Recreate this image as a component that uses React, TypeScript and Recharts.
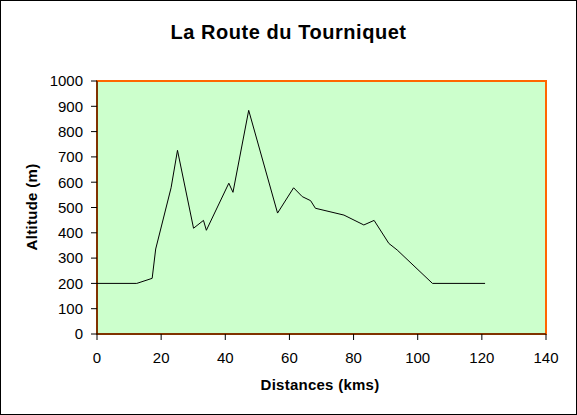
import { LineChart, Line, XAxis, YAxis, CartesianGrid, ReferenceArea } from 'recharts'

// Distance (km) and altitude (m)
const DISTANCES = [0, 12.4, 17.2, 18.3, 23.1, 25.1, 30.1, 33.2, 34.1, 41.1, 42.4, 47.3, 56.3, 61.3, 64, 66.6, 68.1, 77, 83.2, 86.4, 91, 93.6, 104.6, 121]
const ALTITUDES = [200, 200, 220, 336, 578, 726, 418, 449, 410, 596, 560, 884, 478, 578, 543, 527, 497, 470, 431, 449, 358, 332, 200, 200]

const X_TICKS = [0, 20, 40, 60, 80, 100, 120, 140]
const Y_TICKS = [0, 100, 200, 300, 400, 500, 600, 700, 800, 900, 1000]

const data = DISTANCES.map((km, i) => ({ km, alt: ALTITUDES[i] }))

const FONT = '"Liberation Sans", Arial, sans-serif'
const tickStyle = { fill: '#000', fontSize: 15, fontFamily: FONT }

export default function App() {
  return (
    <div style={{ position: 'absolute', left: 0, top: 0, width: 577, height: 415, background: '#fff', fontFamily: FONT }}>
      <LineChart
        width={577}
        height={415}
        data={data}
        margin={{ top: 81, right: 31, left: 37, bottom: 51 }}
      >
        <CartesianGrid horizontal={false} vertical={false} fill="#CCFFCC" />
        <ReferenceArea
          x1={0}
          x2={140}
          y1={0}
          y2={1000}
          fill="#CCFFCC"
          fillOpacity={1}
          stroke="#FF6600"
          strokeWidth={2}
        />
        <XAxis
          type="number"
          dataKey="km"
          domain={[0, 140]}
          ticks={X_TICKS}
          interval={0}
          height={30}
          tick={tickStyle}
          tickSize={6}
          tickMargin={12}
          axisLine={{ stroke: '#000' }}
          tickLine={{ stroke: '#000' }}
        />
        <YAxis
          type="number"
          domain={[0, 1000]}
          ticks={Y_TICKS}
          interval={0}
          width={60}
          tick={tickStyle}
          tickSize={6}
          tickMargin={8}
          axisLine={{ stroke: '#000' }}
          tickLine={{ stroke: '#000' }}
        />
        <Line
          type="linear"
          dataKey="alt"
          stroke="#000"
          strokeWidth={1}
          dot={false}
          activeDot={false}
          isAnimationActive={false}
        />
      </LineChart>

      {/* titles */}
      <div style={{ position: 'absolute', left: 0, width: 577, top: 22, textAlign: 'center', fontSize: 20, lineHeight: '20px', fontWeight: 'bold', letterSpacing: 0.55 }}>
        La Route du Tourniquet
      </div>
      <div style={{ position: 'absolute', left: 320, top: 384, transform: 'translate(-50%, -50%)', whiteSpace: 'nowrap', fontSize: 15, fontWeight: 'bold', letterSpacing: 0.25 }}>
        Distances (kms)
      </div>
      <div style={{ position: 'absolute', left: 31, top: 207, transform: 'translate(-50%, -50%) rotate(-90deg)', whiteSpace: 'nowrap', fontSize: 15, fontWeight: 'bold', letterSpacing: 0.3 }}>
        Altitude (m)
      </div>
      <div style={{ position: 'absolute', inset: 0, border: '1px solid #000', pointerEvents: 'none' }} />
    </div>
  )
}
